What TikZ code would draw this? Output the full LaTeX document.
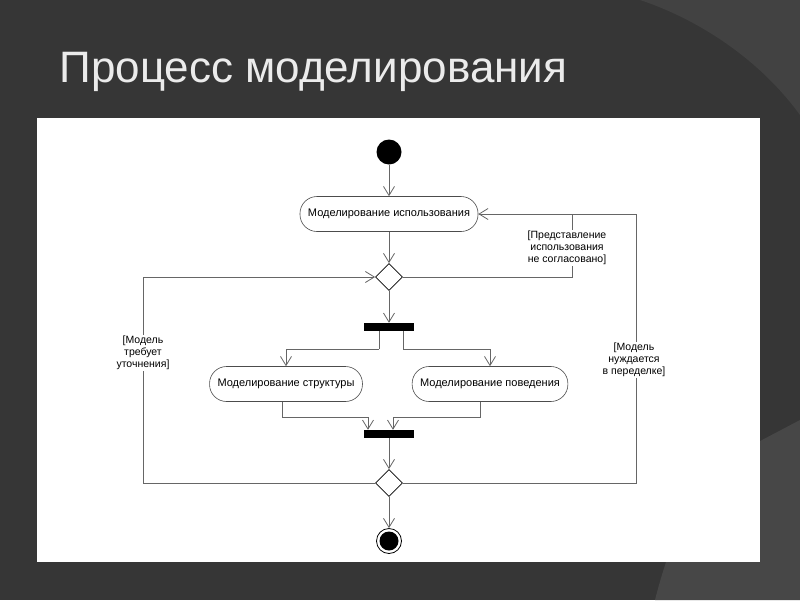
\documentclass[tikz,border=0pt]{standalone}
\usepackage{fontspec}
\setmainfont{Liberation Sans}
\usetikzlibrary{arrows.meta,shapes.geometric}
\begin{document}
\begin{tikzpicture}[x=1pt,y=-1pt,
  act/.style={draw=black!70,rounded corners=17pt,minimum height=35pt,inner xsep=8pt,font=\fontsize{11}{13}\selectfont,line width=0.6pt},
  dec/.style={draw=black,diamond,minimum width=27pt,minimum height=27pt,inner sep=0pt,line width=0.8pt},
  bar/.style={fill=black,minimum width=50pt,minimum height=8pt,inner sep=0pt},
  flow/.style={draw=black!60,line width=0.8pt,-{Straight Barb[length=9pt,width=11pt]}},
  seg/.style={draw=black!60,line width=0.8pt},
  guard/.style={fill=white,align=center,inner sep=1pt,font=\fontsize{10.5}{12}\selectfont}]
\useasboundingbox (0,0) rectangle (800,600);
\fill[black!79] (0,0) rectangle (800,600);
\fill[black!74] (640,0) .. controls (700,20) and (760,60) .. (800,115) -- (800,0) -- cycle;
\fill[black!72] (800,420) -- (705,470) .. controls (680,520) and (665,560) .. (655,600) -- (800,600) -- cycle;
\node[anchor=base west,text=black!8,font=\fontsize{44}{48}\selectfont] (title) at (56,82) {Процесс моделирования};
\fill[white] (37,118) rectangle (760,562);
\node[circle,fill=black,minimum size=25pt,inner sep=0pt] (start) at (389,152) {};
\node[act,minimum width=178pt] (a1) at (389,214) {Моделирование использования};
\node[dec] (d1) at (389,277) {};
\node[bar] (fork) at (389,327) {};
\node[act,minimum width=150pt] (a2) at (286,384) {Моделирование структуры};
\node[act,minimum width=149pt] (a3) at (490,384) {Моделирование поведения};
\node[bar] (join) at (389,434) {};
\node[dec] (d2) at (389,483) {};
\node[circle,draw=black,line width=0.8pt,minimum size=25pt,inner sep=0pt] (end) at (389,541) {};
\node[circle,fill=black,minimum size=19pt,inner sep=0pt] at (end) {};
\coordinate (fl) at (379,349); \coordinate (fr) at (403,349);
\coordinate (jl) at (368,417); \coordinate (jr) at (393,417);
\coordinate (sl) at (282,417); \coordinate (sr) at (480,417);
\path[flow] (start) -- (a1);
\path[flow] (a1) -- (d1);
\path[flow] (d1) -- (fork);
\path[seg] (fork.south -| fl) -- (fl); \path[flow] (fl) -| (a2.north);
\path[seg] (fork.south -| fr) -- (fr); \path[flow] (fr) -| (a3.north);
\path[seg] (a2.south -| sl) -- (sl) -- (jl); \path[flow] (jl) -- (jl |- join.north);
\path[seg] (a3.south -| sr) -- (sr) -- (jr); \path[flow] (jr) -- (jr |- join.north);
\path[flow] (join) -- (d2);
\path[flow] (d2) -- (end);
\coordinate (lc) at (143,483); \coordinate (rc) at (636,483);
\path[flow] (d2.west) -- (lc) |- (d1.west);
\path[flow] (d2.east) -- (rc) |- (a1.east);
\path[seg] (d1.east) -| (572,214);
\node[guard] at (143,353) {[Модель\\требует\\уточнения]};
\node[guard] at (634,360) {[Модель\\нуждается\\в переделке]};
\node[guard] at (567,248) {[Представление\\использования\\не согласовано]};
\end{tikzpicture}
\end{document}
